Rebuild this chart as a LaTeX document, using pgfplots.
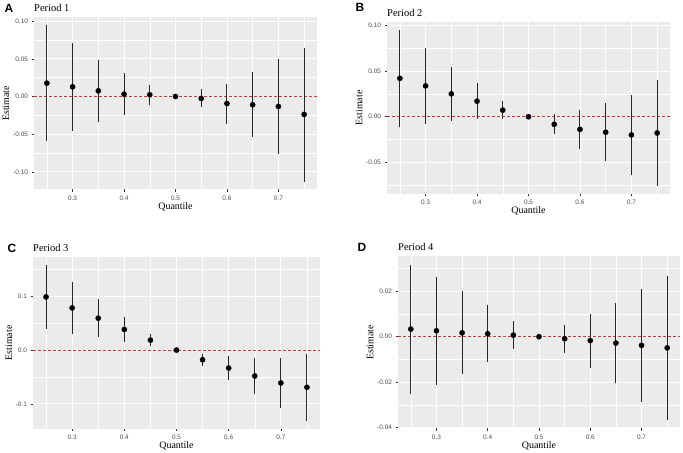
\documentclass[border=0pt]{standalone}
\usepackage{pgfplots}
\pgfplotsset{compat=1.18}
\usepackage{pgfplotstable}
\usepackage{fontspec}
\setmainfont{Liberation Serif}
\setsansfont{Liberation Sans}
\definecolor{ggbg}{HTML}{EBEBEB}
\definecolor{ggtxt}{HTML}{4D4D4D}
\definecolor{ggtick}{HTML}{333333}
\definecolor{ggred}{RGB}{235,45,45}

\pgfplotstableread{
x y lo hi
0.25 0.0177 -0.0596 0.0944
0.30 0.0128 -0.0455 0.0706
0.35 0.0075 -0.0340 0.0480
0.40 0.0031 -0.0243 0.0310
0.45 0.0022 -0.0115 0.0150
0.50 0.0000 0.0000 0.0000
0.55 -0.0026 -0.0146 0.0093
0.60 -0.0093 -0.0362 0.0172
0.65 -0.0110 -0.0543 0.0322
0.70 -0.0132 -0.0763 0.0494
0.75 -0.0238 -0.1130 0.0649
}\dataA
\pgfplotstableread{
x y lo hi
0.25 0.0420 -0.0112 0.0949
0.30 0.0337 -0.0076 0.0750
0.35 0.0250 -0.0051 0.0547
0.40 0.0170 -0.0029 0.0366
0.45 0.0072 -0.0029 0.0167
0.50 0.0000 0.0000 0.0000
0.55 -0.0083 -0.0188 0.0025
0.60 -0.0138 -0.0348 0.0076
0.65 -0.0170 -0.0489 0.0145
0.70 -0.0199 -0.0638 0.0236
0.75 -0.0178 -0.0754 0.0402
}\dataB
\pgfplotstableread{
x y lo hi
0.25 0.0988 0.0389 0.1586
0.30 0.0784 0.0302 0.1265
0.35 0.0593 0.0235 0.0950
0.40 0.0383 0.0148 0.0617
0.45 0.0185 0.0074 0.0296
0.50 0.0000 0.0000 0.0000
0.55 -0.0179 -0.0290 -0.0068
0.60 -0.0333 -0.0556 -0.0117
0.65 -0.0481 -0.0821 -0.0148
0.70 -0.0611 -0.1080 -0.0148
0.75 -0.0691 -0.1320 -0.0080
}\dataC
\pgfplotstableread{
x y lo hi
0.25 0.00335 -0.0252 0.0317
0.30 0.0026 -0.0212 0.0262
0.35 0.0017 -0.0166 0.0201
0.40 0.0013 -0.0110 0.0138
0.45 0.0007 -0.0054 0.0067
0.50 0.0000 0.0000 0.0000
0.55 -0.0009 -0.0071 0.0052
0.60 -0.0017 -0.0138 0.0101
0.65 -0.0028 -0.0205 0.0150
0.70 -0.0038 -0.0289 0.0211
0.75 -0.0049 -0.0368 0.0268
}\dataD

\pgfplotsset{
  ggpanel/.style={
    scale only axis,
    xmin=0.225, xmax=0.775,
    xtick={0.3,0.4,0.5,0.6,0.7},
    minor xtick={0.25,0.35,0.45,0.55,0.65,0.75},
    axis background/.style={fill=ggbg},
    axis line style={draw=none},
    grid=both,
    major grid style={white, line width=0.9bp},
    minor grid style={white, line width=0.45bp},
    tick align=outside,
    major tick length=2.5bp,
    minor tick length=0bp,
    tick style={ggtick, line width=0.5bp},
    xtick pos=bottom, ytick pos=left,
    /pgf/number format/assume math mode=true,
    ticklabel style={font=\sffamily\fontsize{6.5}{7}\selectfont, text=ggtxt},
    xticklabel style={/pgf/number format/.cd, fixed, fixed zerofill, precision=1},
    yticklabel style={/pgf/number format/.cd, fixed, fixed zerofill, precision=2},
    scaled y ticks=false, scaled x ticks=false,
    xlabel={Quantile}, ylabel={Estimate},
    label style={font=\fontsize{10.5}{12}\selectfont},
    every axis x label/.style={at={(axis description cs:0.5,0)}, anchor=center, yshift=-17bp},
    every axis y label/.style={at={(axis description cs:0,0.5)}, anchor=center, rotate=90},
    every axis title/.style={at={(axis description cs:0,1)}, anchor=west, yshift=9.5bp, inner sep=0pt, font=\fontsize{10.5}{12}\selectfont},
    height=172bp,
    clip=false,
  },
  zeroline/.style={draw=ggred, color=ggred, mark=none, line width=1bp, dash pattern=on 3bp off 2bp, forget plot},
  ests/.style={only marks, black, mark=*, mark size=2.6bp,
    error bars/.cd, y dir=both, y explicit, error mark=none,
    error bar style={black!85, line width=1bp}},
}

\begin{document}
\begin{tikzpicture}[x=1bp,y=1bp]
\useasboundingbox (0,0) rectangle (683,453);

% Panel A
\begin{axis}[ggpanel, at={(34bp,263.5bp)}, anchor=south west, width=283bp,
  ymin=-0.1234, ymax=0.1048,
  ytick={-0.1,-0.05,0,0.05,0.1},
  minor ytick={-0.075,-0.025,0.025,0.075},
  ylabel style={yshift=28bp}, title={Period 1}]
\addplot[zeroline] coordinates {(0.225,0) (0.775,0)};
\addplot[ests] table[x=x, y=y, y error plus expr=\thisrow{hi}-\thisrow{y}, y error minus expr=\thisrow{y}-\thisrow{lo}] {\dataA};
\end{axis}

% Panel B
\begin{axis}[ggpanel, at={(387bp,259bp)}, anchor=south west, width=283bp,
  ymin=-0.0845, ymax=0.1036,
  ytick={-0.05,0,0.05,0.1},
  minor ytick={-0.075,-0.025,0.025,0.075},
  ylabel style={yshift=28bp}, title={Period 2}]
\addplot[zeroline] coordinates {(0.225,0) (0.775,0)};
\addplot[ests] table[x=x, y=y, y error plus expr=\thisrow{hi}-\thisrow{y}, y error minus expr=\thisrow{y}-\thisrow{lo}] {\dataB};
\end{axis}

% Panel C
\begin{axis}[ggpanel, at={(33bp,24bp)}, anchor=south west, width=287bp,
  ymin=-0.1466, ymax=0.1730,
  ytick={-0.1,0,0.1},
  minor ytick={-0.15,-0.05,0.05,0.15},
  yticklabel style={/pgf/number format/.cd, fixed, fixed zerofill, precision=1},
  ylabel style={yshift=24bp}, title={Period 3}]
\addplot[zeroline] coordinates {(0.225,0) (0.775,0)};
\addplot[ests] table[x=x, y=y, y error plus expr=\thisrow{hi}-\thisrow{y}, y error minus expr=\thisrow{y}-\thisrow{lo}] {\dataC};
\end{axis}

% Panel D
\begin{axis}[ggpanel, at={(398bp,24.5bp)}, anchor=south west, width=282bp,
  ymin=-0.0404, ymax=0.0353,
  ytick={-0.04,-0.02,0,0.02},
  minor ytick={-0.03,-0.01,0.01,0.03},
  ylabel style={yshift=28bp}, title={Period 4}]
\addplot[zeroline] coordinates {(0.225,0) (0.775,0)};
\addplot[ests] table[x=x, y=y, y error plus expr=\thisrow{hi}-\thisrow{y}, y error minus expr=\thisrow{y}-\thisrow{lo}] {\dataD};
\end{axis}

\node[font=\sffamily\bfseries\fontsize{12}{14}\selectfont] at (9,445) {A};
\node[font=\sffamily\bfseries\fontsize{12}{14}\selectfont] at (360,446) {B};
\node[font=\sffamily\bfseries\fontsize{12}{14}\selectfont] at (12,205) {C};
\node[font=\sffamily\bfseries\fontsize{12}{14}\selectfont] at (362,206) {D};
\end{tikzpicture}
\end{document}
